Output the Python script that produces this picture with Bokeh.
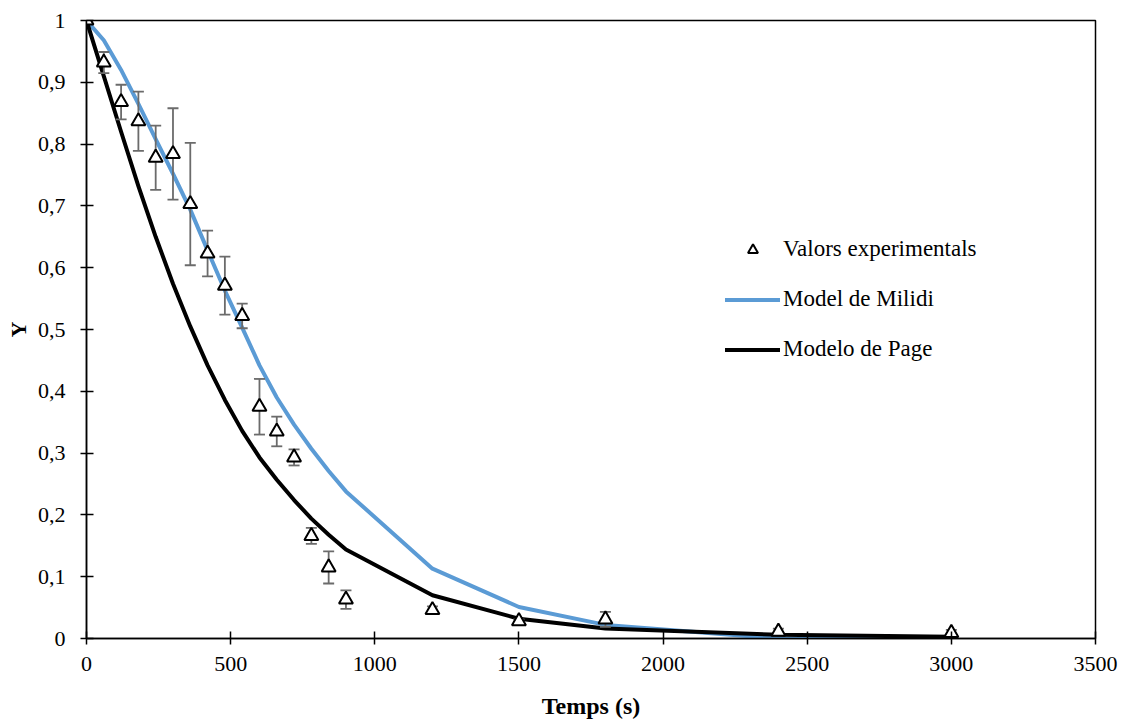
from bokeh.plotting import figure
from bokeh.models import (Range1d, FixedTicker, CustomJSTickFormatter, Legend, LegendItem,
                          ColumnDataSource)
from bokeh.embed import file_html
from bokeh.resources import INLINE

# ---- data ----
temps = [0, 60, 120, 180, 240, 300, 360, 420, 480, 540, 600, 660, 720, 780, 840, 900,
         1200, 1500, 1800, 2400, 3000]
y_exp = [1.0, 0.932, 0.868, 0.837, 0.778, 0.784, 0.703, 0.623, 0.571, 0.522, 0.375, 0.335,
         0.293, 0.166, 0.115, 0.063, 0.046, 0.028, 0.031, 0.011, 0.009]
y_err = [0.0, 0.017, 0.028, 0.048, 0.052, 0.074, 0.099, 0.037, 0.047, 0.020, 0.045, 0.024,
         0.013, 0.013, 0.026, 0.015, 0.006, 0.003, 0.012, 0.005, 0.005]
y_milidi = [1.0, 0.968, 0.920, 0.865, 0.808, 0.752, 0.694, 0.628, 0.563, 0.503, 0.442, 0.390,
            0.346, 0.307, 0.271, 0.238, 0.113, 0.051, 0.022, 0.0, -0.002]
y_page = [1.0, 0.910, 0.820, 0.732, 0.650, 0.574, 0.505, 0.442, 0.386, 0.336, 0.293, 0.257,
          0.224, 0.194, 0.168, 0.144, 0.070, 0.032, 0.016, 0.006, 0.003]
x_ticks = [0, 500, 1000, 1500, 2000, 2500, 3000, 3500]
y_ticks = [0, 0.1, 0.2, 0.3, 0.4, 0.5, 0.6, 0.7, 0.8, 0.9, 1.0]

FONT = "Liberation Serif"

p = figure(width=1124, height=722, output_backend="svg", toolbar_location=None,
           x_range=Range1d(0, 3500), y_range=Range1d(0, 1),
           min_border_left=86, min_border_right=29, min_border_top=20, min_border_bottom=84)
p.xgrid.visible = False
p.ygrid.visible = False
p.outline_line_color = "black"
p.outline_line_width = 1.5
p.background_fill_color = "white"
p.border_fill_color = "white"

fmt = CustomJSTickFormatter(code="return (Math.round(tick*10)/10).toString().replace('.', ',');")

for ax in (p.xaxis[0], p.yaxis[0]):
    ax.axis_line_color = "black"
    ax.axis_line_width = 1.5
    ax.major_tick_line_color = "black"
    ax.major_tick_line_width = 1.5
    ax.major_tick_in = 7
    ax.major_tick_out = 6
    ax.minor_tick_line_color = None
    ax.major_label_text_font = FONT
    ax.major_label_text_font_size = "22px"
    ax.major_label_text_color = "black"
    ax.axis_label_text_font = FONT
    ax.axis_label_text_font_style = "bold"
    ax.axis_label_text_color = "black"

p.xaxis.ticker = FixedTicker(ticks=x_ticks)
p.yaxis.ticker = FixedTicker(ticks=y_ticks)
p.yaxis.formatter = fmt
p.xaxis.formatter = fmt
p.xaxis.axis_label = "Temps (s)"
p.yaxis.axis_label = "Y"
p.xaxis.axis_label_text_font_size = "24px"
p.yaxis.axis_label_text_font_size = "22px"
p.xaxis.major_label_standoff = 12
p.yaxis.major_label_standoff = 15
p.xaxis.axis_label_standoff = 19
p.yaxis.axis_label_standoff = 4

# model lines
r_mil = p.line(temps, y_milidi, line_color="#5B9BD5", line_width=4, line_join="round",
               line_cap="round")
r_page = p.line(temps, y_page, line_color="black", line_width=4, line_join="round",
                line_cap="round")

# error bars
ex = [t for t, e in zip(temps, y_err) if e > 0]
lo = [y - e for y, e in zip(y_exp, y_err) if e > 0]
hi = [y + e for y, e in zip(y_exp, y_err) if e > 0]
src_err = ColumnDataSource(dict(x=ex, lo=lo, hi=hi))
p.segment(x0="x", y0="lo", x1="x", y1="hi", source=src_err, line_color="#6b6b6b", line_width=1.8)
p.scatter(x="x", y="lo", source=src_err, marker="dash", size=11, line_color="#6b6b6b",
          line_width=1.8)
p.scatter(x="x", y="hi", source=src_err, marker="dash", size=11, line_color="#6b6b6b",
          line_width=1.8)

# experimental points
r_exp = p.scatter(temps, y_exp, marker="triangle", size=14, fill_color="white",
                  line_color="black", line_width=2)

legend = Legend(items=[LegendItem(label="Valors experimentals", renderers=[r_exp]),
                       LegendItem(label="Model de Milidi", renderers=[r_mil]),
                       LegendItem(label="Modelo de Page", renderers=[r_page])],
                location=(639, 276))
legend.glyph_width = 55
legend.glyph_height = 25
legend.label_height = 25
legend.spacing = 24
legend.padding = 0
legend.margin = 0
legend.label_standoff = 3
legend.label_text_font = FONT
legend.label_text_font_size = "23px"
legend.label_text_color = "black"
legend.border_line_color = None
legend.background_fill_alpha = 0
p.add_layout(legend, "center")

open("out.html", "w").write(file_html(p, INLINE))
